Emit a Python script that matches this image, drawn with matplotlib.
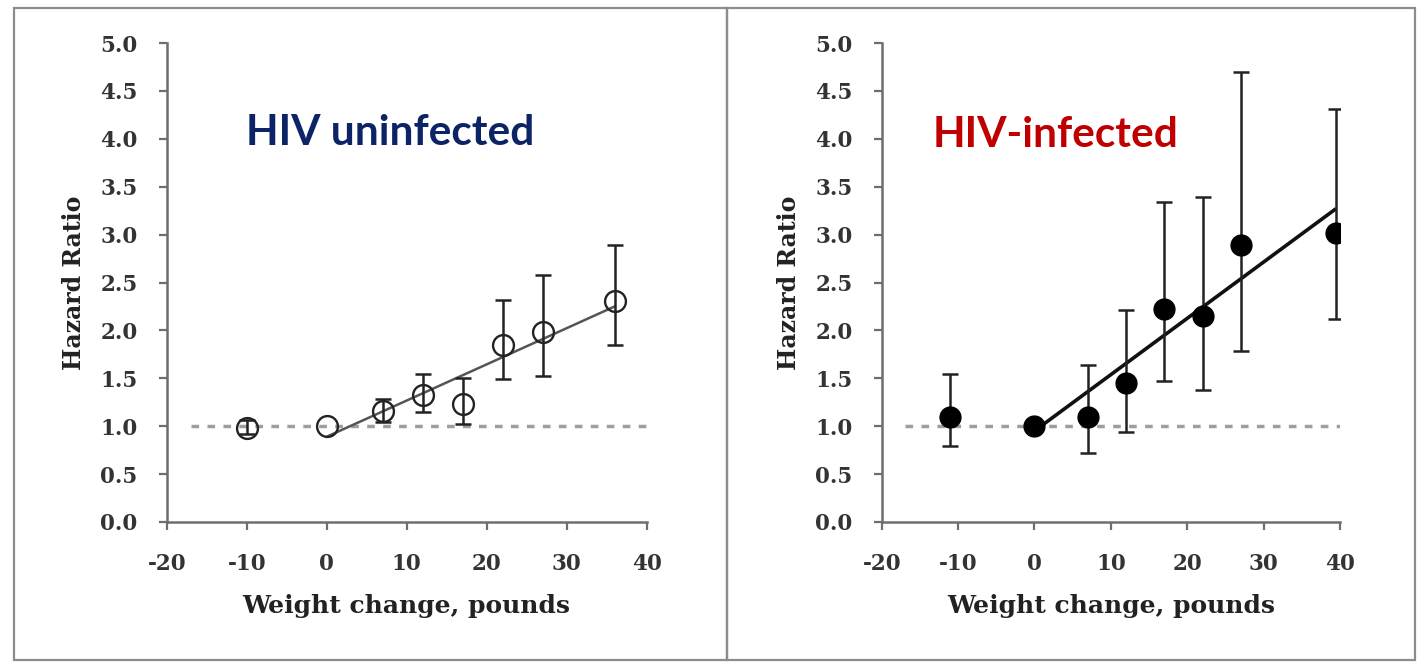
import numpy as np
import matplotlib
matplotlib.use("Agg")
import matplotlib.pyplot as plt
from matplotlib.patches import Rectangle

# Weight change (pounds) categories and hazard ratios with 95% CI
weight_uninf = [-10, 0, 7, 12, 17, 22, 27, 36]
hr_uninf = [0.98, 1.00, 1.16, 1.33, 1.23, 1.85, 1.98, 2.31]
lo_uninf = [0.92, np.nan, 1.04, 1.15, 1.02, 1.49, 1.52, 1.85]
hi_uninf = [1.06, np.nan, 1.28, 1.54, 1.50, 2.32, 2.58, 2.89]
trend_x_uninf = [0, 36]
trend_y_uninf = [0.89, 2.25]

weight_inf = [-11, 0, 7, 12, 17, 22, 27, 39.5]
hr_inf = [1.10, 1.00, 1.10, 1.45, 2.22, 2.15, 2.89, 3.02]
lo_inf = [0.79, np.nan, 0.72, 0.94, 1.47, 1.38, 1.78, 2.12]
hi_inf = [1.55, np.nan, 1.64, 2.21, 3.34, 3.39, 4.70, 4.31]
trend_x_inf = [0.5, 39.3]
trend_y_inf = [0.98, 3.26]

ref_x = [-17, 40]
ref_y = [1.0, 1.0]

x_ticks = [-20, -10, 0, 10, 20, 30, 40]
y_ticks = [0.0, 0.5, 1.0, 1.5, 2.0, 2.5, 3.0, 3.5, 4.0, 4.5, 5.0]

W, H = 1419, 664
fig = plt.figure(figsize=(W / 100, H / 100), dpi=100)
fig.patch.set_facecolor("white")

# panel frames
for (x0, x1) in [(14, 727), (727, 1415)]:
    fig.patches.append(Rectangle((x0 / W, 1 - 660 / H), (x1 - x0) / W, (660 - 8) / H,
                                 transform=fig.transFigure, fill=False,
                                 edgecolor="#8c8c8c", linewidth=1.6))

tick_font = dict(family="DejaVu Serif", weight="bold", size=15.5)
ink = "#333333"


def panel(rect, xs, hr, lo, hi, tx, ty, title, title_color, title_xy, filled, line_color, line_w):
    ax = fig.add_axes(rect)
    ax.set_xlim(-20, 40)
    ax.set_ylim(0, 5)
    for s in ["top", "right"]:
        ax.spines[s].set_visible(False)
    for s in ["left", "bottom"]:
        ax.spines[s].set_color("#6e6e6e")
        ax.spines[s].set_linewidth(1.8)
    ax.set_xticks(x_ticks)
    ax.set_yticks(y_ticks)
    ax.set_xticklabels([str(v) for v in x_ticks], fontdict=tick_font, color=ink)
    ax.set_yticklabels([f"{v:.1f}" for v in y_ticks], fontdict=tick_font, color=ink)
    ax.tick_params(axis="both", direction="out", length=6, width=1.6, color="#6e6e6e")
    ax.tick_params(axis="y", pad=15)
    ax.tick_params(axis="x", pad=16)

    ax.plot(ref_x, ref_y, linestyle=(0, (2.2, 2.4)), color="#9e9e9e", linewidth=2.5, zorder=1)
    ax.plot(tx, ty, color=line_color, linewidth=line_w, zorder=3)

    xs = np.asarray(xs, float)
    hr = np.asarray(hr, float)
    lo = np.asarray(lo, float)
    hi = np.asarray(hi, float)
    m = ~np.isnan(lo)
    ax.errorbar(xs[m], hr[m], yerr=[hr[m] - lo[m], hi[m] - hr[m]], fmt="none",
                ecolor="#222222", elinewidth=1.8, capsize=5.5, capthick=1.8, zorder=4)
    if filled:
        ax.plot(xs, hr, "o", markersize=15, markerfacecolor="black",
                markeredgecolor="black", linestyle="none", zorder=5)
    else:
        ax.plot(xs, hr, "o", markersize=15, markerfacecolor="none",
                markeredgecolor="#222222", markeredgewidth=1.7, linestyle="none", zorder=5)

    ax.set_xlabel("Weight change, pounds", family="DejaVu Serif", weight="bold",
                  size=18, color="#222222", labelpad=14)
    ax.set_ylabel("Hazard Ratio", family="DejaVu Serif", weight="bold",
                  size=17, color="#222222", labelpad=10)
    fig.text(title_xy[0] / W, 1 - title_xy[1] / H, title, family="Lato", weight="bold",
             size=30.5, color=title_color, ha="center", va="baseline")
    return ax


panel([166.7 / W, 1 - 522 / H, 480 / W, 479 / H], weight_uninf, hr_uninf, lo_uninf, hi_uninf,
      trend_x_uninf, trend_y_uninf, "HIV uninfected", "#0c2466", (390, 145), False, "#555555", 1.8)
panel([881.7 / W, 1 - 522 / H, 458.3 / W, 479 / H], weight_inf, hr_inf, lo_inf, hi_inf,
      trend_x_inf, trend_y_inf, "HIV-infected", "#c00000", (1056, 147), True, "#111111", 2.6)

fig.savefig("out.png", dpi=100)
